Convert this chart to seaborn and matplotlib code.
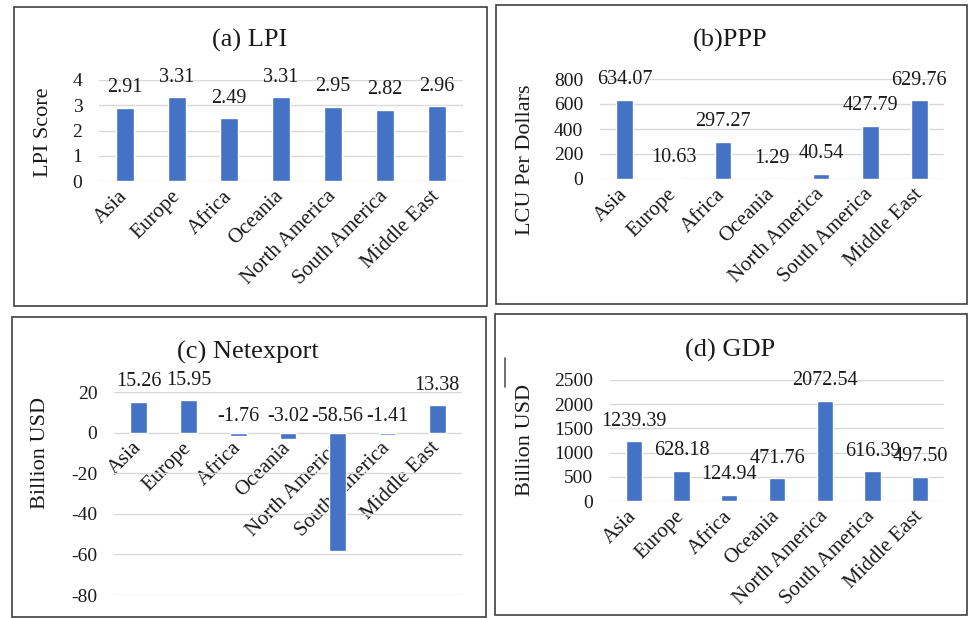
import matplotlib
matplotlib.use("Agg")
import matplotlib.pyplot as plt
import seaborn as sns
import pandas as pd
import numpy as np
from matplotlib.patches import Rectangle
from matplotlib.lines import Line2D

# Regions shared by all four panels
regions = ["Asia", "Europe", "Africa", "Oceania",
           "North America", "South America", "Middle East"]

# Indicator values per region
lpi_scores = [2.91, 3.31, 2.49, 3.31, 2.95, 2.82, 2.96]
ppp_values = [634.07, 10.63, 297.27, 1.29, 40.54, 427.79, 629.76]
netexport_values = [15.26, 15.95, -1.76, -3.02, -58.56, -1.41, 13.38]
gdp_values = [1239.39, 628.18, 124.94, 471.76, 2072.54, 616.39, 497.50]

panel_titles = ["(a) LPI", "(b)PPP", "(c) Netexport", "(d) GDP"]
panel_ylabels = ["LPI Score", "LCU Per Dollars", "Billion USD", "Billion USD"]

sns.set_theme(style="white")
plt.rcParams["font.family"] = ["Liberation Serif", "DejaVu Serif"]
plt.rcParams["axes.unicode_minus"] = False

W, H = 969, 618
fig = plt.figure(figsize=(W / 100, H / 100), dpi=100)
fig.patch.set_facecolor("white")

BAR = "#4472C4"
GRID = "#D9D9D9"
FRAME = "#3F3F3F"
INK = "#1a1a1a"


def fig_box(x0, y0, x1, y1):
    """Pixel box (top-left origin) -> figure-fraction [left, bottom, w, h]."""
    return [x0 / W, 1 - y1 / H, (x1 - x0) / W, (y1 - y0) / H]


layout = [
    dict(values=lpi_scores, ylim=(0, 4), step=1,
         axbox=(99, 80, 463, 181), frame=(14, 7, 487, 306),
         title_xy=(250, 40), ylabel_xy=(53, 132)),
    dict(values=ppp_values, ylim=(0, 800), step=200,
         axbox=(600, 79, 944, 179), frame=(496, 5, 967, 304),
         title_xy=(730, 40), ylabel_xy=(535, 160)),
    dict(values=netexport_values, ylim=(-80, 20), step=20,
         axbox=(114, 392, 462, 595), frame=(12, 317, 486, 617),
         title_xy=(248, 352), ylabel_xy=(50, 453)),
    dict(values=gdp_values, ylim=(0, 2500), step=500,
         axbox=(610, 380, 944, 501), frame=(495, 314, 967, 615),
         title_xy=(730, 350), ylabel_xy=(535, 440)),
]

for spec, title, ylabel in zip(layout, panel_titles, panel_ylabels):
    # panel frame
    x0, y0, x1, y1 = spec["frame"]
    fig.add_artist(Rectangle((x0 / W, 1 - y1 / H), (x1 - x0) / W, (y1 - y0) / H,
                             transform=fig.transFigure, fill=False,
                             ec=FRAME, lw=1.2))

    ax = fig.add_axes(fig_box(*spec["axbox"]))
    ax.set_facecolor("none")
    df = pd.DataFrame({"Region": regions, "Value": spec["values"]})
    sns.barplot(data=df, x="Region", y="Value", color=BAR, saturation=1,
                width=0.34, ax=ax, errorbar=None, zorder=3)

    lo, hi = spec["ylim"]
    ax.set_ylim(lo, hi)
    ax.set_xlim(-0.5, len(regions) - 0.5)
    ax.set_yticks(np.arange(lo, hi + spec["step"] / 2, spec["step"]))
    ax.yaxis.grid(True, color=GRID, lw=1.0, zorder=0)
    ax.xaxis.grid(False)
    ax.set_axisbelow(True)
    for s in ["left", "right", "top", "bottom"]:
        ax.spines[s].set_visible(False)
    if lo < 0:
        ax.spines["bottom"].set_position(("data", 0))

    ax.tick_params(axis="y", length=0, labelsize=14, pad=12, colors=INK)
    ax.tick_params(axis="x", length=0, labelsize=15, pad=9, colors=INK)
    for lab in ax.get_xticklabels():
        lab.set_rotation(45)
        lab.set_ha("right")
        lab.set_va("center")
        lab.set_rotation_mode("anchor")
    ax.set_xlabel("")
    ax.set_ylabel(ylabel, fontsize=16, color=INK)
    lx, ly = spec["ylabel_xy"]
    ax.yaxis.set_label_coords(lx / W, 1 - ly / H, transform=fig.transFigure)

    # value labels
    for i, v in enumerate(spec["values"]):
        anchor = v if v >= 0 else 0
        offset = 14.4 if v >= 0 else 11.5
        ax.annotate(f"{v:.2f}", (i, anchor), xytext=(0, offset),
                    textcoords="offset points", ha="center", va="center",
                    fontsize=14.5, color=INK, annotation_clip=False)

    tx, ty = spec["title_xy"]
    fig.text(tx / W, 1 - ty / H, title, ha="center", va="center",
             fontsize=19, color=INK)

# small stray vertical stroke in the GDP panel
fig.add_artist(Line2D([505 / W, 505 / W], [1 - 358 / H, 1 - 387 / H],
                      transform=fig.transFigure, color="#555555", lw=1.2))

fig.savefig("out.png", dpi=100, facecolor="white")
